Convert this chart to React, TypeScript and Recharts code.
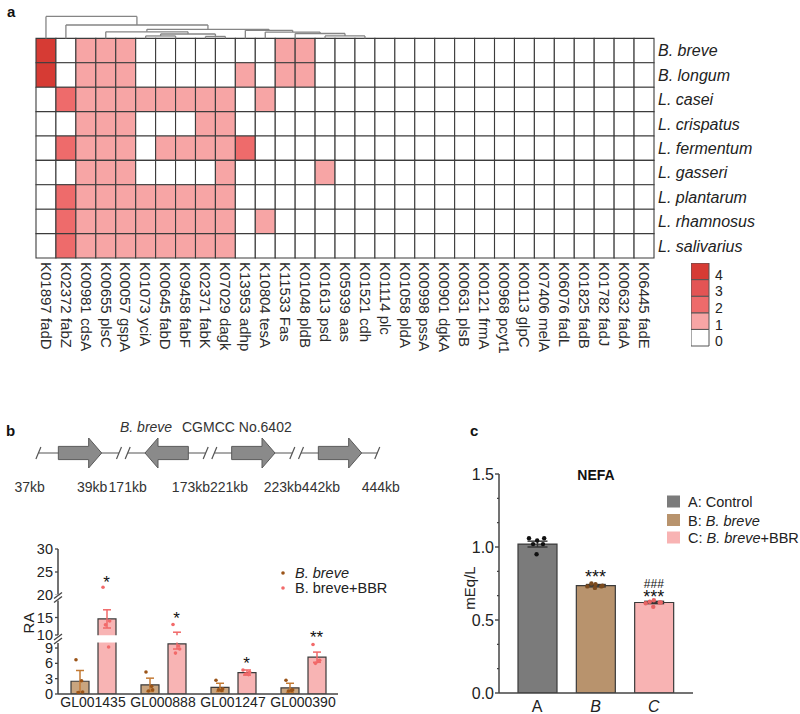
import React from 'react';
import {
  ComposedChart, Bar, Scatter, XAxis, YAxis, ReferenceArea, ReferenceLine, ReferenceDot, ErrorBar, Cell,
} from 'recharts';

const FONT = "'Liberation Sans', Arial, Helvetica, sans-serif";
const INK = '#222';

/* ---------------- Panel a : heatmap ---------------- */
const heatGenes = [
  'K01897 fadD', 'K02372 fabZ', 'K00981 cdsA', 'K00655 plsC', 'K00057 gspA', 'K01073 yciA',
  'K00645 fabD', 'K09458 fabF', 'K02371 fabK', 'K07029 dagk', 'K13953 adhp', 'K10804 tesA',
  'K11533 Fas', 'K01048 pldB', 'K01613 psd', 'K05939 aas', 'K01521 cdh', 'K01114 plc',
  'K01058 pldA', 'K00998 pssA', 'K00901 dgkA', 'K00631 plsB', 'K00121 frmA', 'K00968 pcyt1',
  'K00113 glpC', 'K07406 melA', 'K06076 fadL', 'K01825 fadB', 'K01782 fadJ', 'K00632 fadA', 'K06445 fadE',
];
const heatSpecies = [
  'B. breve', 'B. longum', 'L. casei', 'L. crispatus', 'L. fermentum',
  'L. gasseri', 'L. plantarum', 'L. rhamnosus', 'L. salivarius',
];
const rowBreve      = [4,0,1,1,1,0,0,0,0,0,0,0,1,1,0,0,0,0,0,0,0,0,0,0,0,0,0,0,0,0,0];
const rowLongum     = [4,0,1,1,1,0,0,0,0,0,1,0,1,1,0,0,0,0,0,0,0,0,0,0,0,0,0,0,0,0,0];
const rowCasei      = [0,2,1,1,1,1,1,1,1,1,0,1,0,0,0,0,0,0,0,0,0,0,0,0,0,0,0,0,0,0,0];
const rowCrispatus  = [0,0,1,1,1,0,0,0,1,1,0,0,0,0,0,0,0,0,0,0,0,0,0,0,0,0,0,0,0,0,0];
const rowFermentum  = [0,2,1,1,1,0,1,1,1,1,2,0,0,0,0,0,0,0,0,0,0,0,0,0,0,0,0,0,0,0,0];
const rowGasseri    = [0,0,1,1,1,0,0,0,0,1,0,0,0,0,1,0,0,0,0,0,0,0,0,0,0,0,0,0,0,0,0];
const rowPlantarum  = [0,2,1,1,1,1,1,1,1,1,0,0,0,0,0,0,0,0,0,0,0,0,0,0,0,0,0,0,0,0,0];
const rowRhamnosus  = [0,2,1,1,1,1,1,1,1,1,0,1,0,0,0,0,0,0,0,0,0,0,0,0,0,0,0,0,0,0,0];
const rowSalivarius = [0,2,1,1,1,1,1,1,1,1,0,0,0,0,0,0,0,0,0,0,0,0,0,0,0,0,0,0,0,0,0];
const heatRows = [rowBreve, rowLongum, rowCasei, rowCrispatus, rowFermentum, rowGasseri, rowPlantarum, rowRhamnosus, rowSalivarius];
const heatLevels = [0, 1, 2, 3, 4];
const heatColors = ['#ffffff', '#f7a5a5', '#ee6b6b', '#e35454', '#d63b34'];

// dendrogram merges: left/right child position (column units), merge height, child heights
const dendroLinks = [
  { l: 5.5, r: 7.0, h: 0.1, hl: 0, hr: 0 },
  { l: 8.5, r: 9.5, h: 0.08, hl: 0, hr: 0 },
  { l: 6.25, r: 9.0, h: 0.18, hl: 0.1, hr: 0.08 },
  { l: 3.5, r: 7.625, h: 0.27, hl: 0, hr: 0.18 },
  { l: 14.5, r: 16.5, h: 0.1, hl: 0, hr: 0 },
  { l: 13.0, r: 15.5, h: 0.2, hl: 0, hr: 0.1 },
  { l: 11.5, r: 14.25, h: 0.26, hl: 0, hr: 0.2 },
  { l: 10.5, r: 12.875, h: 0.33, hl: 0, hr: 0.26 },
  { l: 5.5625, r: 11.6875, h: 0.37, hl: 0.27, hr: 0.33 },
  { l: 1.5, r: 8.625, h: 0.55, hl: 0, hr: 0.37 },
  { l: 0.5, r: 5.0625, h: 0.9, hl: 0, hr: 0.55 },
];

/* ---------------- Panel b : gene map ---------------- */
const geneSlot = [0, 1, 2, 3];
const geneDir = [1, -1, 1, 1];
const geneKbLabels = ['37kb', '39kb', '171kb', '173kb', '221kb', '223kb', '442kb', '444kb'];
const geneKbAt = [-0.58, 0.14, 0.55, 1.28, 1.72, 2.34, 2.78, 3.47];

/* ---------------- Panel b : RA bars ---------------- */
const raGenes = ['GL001435', 'GL000888', 'GL001247', 'GL000390'];
const breveMean = [2.5, 1.8, 1.3, 1.2];
const breveSem = [2.1, 1.3, 0.8, 0.9];
const bbrMean = [14.6, 9.8, 4.2, 7.2];
const bbrSem = [2.6, 1.0, 0.5, 1.0];
const brevePts = [[6.7, 0.4, 0.3, 2.6], [4.3, 0.8, 0.6, 1.5], [2.7, 1.0, 0.8, 0.7], [2.7, 0.8, 0.6, 0.7]];
const bbrPts = [[21.7, 14.0, 12.9, 9.2], [13.0, 8.8, 8.0, 9.4], [4.7, 4.3, 3.9, 3.8], [9.7, 6.6, 6.0, 6.5]];
const raStarY = [23.7, 15.9, 6.7, 10.3];
const raStarText = ['*', '*', '*', '**'];
const raTickVals = [[0, 3, 6, 9], [10, 15], [20, 25, 30]];
// broken axis: value range of each piece, its start on the drawn scale and its stretch
const raPieces = [
  { lo: 0, hi: 10, d0: 0, k: 5.11 },
  { lo: 10, hi: 20, d0: 59, k: 3.5 },
  { lo: 20, hi: 30, d0: 99, k: 4.6 },
];
const ptJitter = [-0.05, 0.045, -0.015, 0.03];

/* ---------------- Panel c : NEFA ---------------- */
const nefaGroups = ['A', 'B', 'C'];
const nefaMean = [1.02, 0.735, 0.62];
const nefaSem = [0.02, 0.008, 0.008];
const nefaPts = [
  [1.06, 1.06, 1.045, 1.02, 1.02, 0.95],
  [0.73, 0.735, 0.745, 0.75, 0.73, 0.72],
  [0.615, 0.62, 0.635, 0.625, 0.62, 0.59],
];
const nefaJitter = [-0.14, 0.12, 0.0, -0.07, 0.1, -0.01];
const nefaStarGroup = [1, 2, 2];
const nefaStarY = [0.822, 0.762, 0.683];
const nefaStarText = ['***', '###', '***'];
const nefaTicks = [0, 1 / 6, 1 / 3, 0.5, 2 / 3, 5 / 6, 1, 7 / 6, 4 / 3, 1.5];
const nefaFill = ['#7b7b7b', '#b8936d', '#f8b3b3'];
const nefaDot = ['#111111', '#7a4a1e', '#e86464'];

/* ================= helpers ================= */
function pieceOf(v: number) {
  return v >= 20 ? 2 : v >= 10 ? 1 : 0;
}
function toD(v: number, piece?: number) {
  const p = raPieces[piece === undefined ? pieceOf(v) : piece];
  return p.d0 + (v - p.lo) * p.k;
}
const raTicks = raTickVals.flatMap((arr, pi) => arr.map((t) => ({ d: toD(t, pi), label: String(t) })));

const GeneTick = (props: any) => {
  const { x, y, payload } = props;
  const i = Math.floor(payload.value);
  return (
    <text transform={`translate(${x},${y}) rotate(90)`} dy="0.35em" textAnchor="start" fontSize={15} fill="#2a2a2a" fontFamily={FONT}>
      {heatGenes[i]}
    </text>
  );
};
const SpeciesTick = (props: any) => {
  const { x, y, payload } = props;
  const i = Math.floor(payload.value);
  return (
    <text x={x} y={y} dy="0.36em" textAnchor="start" fontSize={16} fontStyle="italic" fill={INK} fontFamily={FONT}>
      {heatSpecies[i]}
    </text>
  );
};
const LevelTick = (props: any) => {
  const { x, y, payload } = props;
  return (
    <text x={x} y={y} dy="0.6em" textAnchor="start" fontSize={14} fill={INK} fontFamily={FONT}>
      {String(Math.floor(payload.value))}
    </text>
  );
};

function Heatmap() {
  const cells = heatRows.flatMap((row, r) => row.map((v, c) => ({ x: c + 0.5, y: r + 0.5, r, c, v })));
  const lines: any[] = [];
  dendroLinks.forEach((k, i) => {
    const st = { stroke: '#858585', strokeWidth: 1.3, ifOverflow: 'visible' as const };
    lines.push(<ReferenceLine key={`h${i}`} segment={[{ x: k.l, y: -k.h }, { x: k.r, y: -k.h }]} {...st} />);
    lines.push(<ReferenceLine key={`l${i}`} segment={[{ x: k.l, y: -k.h }, { x: k.l, y: -k.hl }]} {...st} />);
    lines.push(<ReferenceLine key={`r${i}`} segment={[{ x: k.r, y: -k.h }, { x: k.r, y: -k.hr }]} {...st} />);
  });
  return (
    <ComposedChart width={800} height={420} margin={{ top: 14, right: 0, bottom: 0, left: 36 }} data={cells}>
      <XAxis type="number" dataKey="x" domain={[0, heatGenes.length]} allowDataOverflow
        ticks={heatGenes.map((_, i) => i + 0.5)} interval={0} tick={<GeneTick />}
        axisLine={false} tickLine={false} tickSize={0} tickMargin={4} height={162} />
      <YAxis type="number" dataKey="y" orientation="right" reversed domain={[-1, heatSpecies.length]} allowDataOverflow
        ticks={heatSpecies.map((_, i) => i + 0.5)} interval={0} tick={<SpeciesTick />}
        axisLine={false} tickLine={false} tickSize={0} tickMargin={4} width={146} />
      <Scatter data={cells} dataKey="y" isAnimationActive={false} shape={() => <g />} />
      {cells.map((cell) => (
        <ReferenceArea key={`c${cell.r}-${cell.c}`} x1={cell.c} x2={cell.c + 1} y1={cell.r} y2={cell.r + 1}
          fill={heatColors[cell.v]} fillOpacity={1} stroke="#3c3c3c" strokeWidth={1.1} ifOverflow="visible" />
      ))}
      {lines}
    </ComposedChart>
  );
}

function HeatLegend() {
  const pts = heatLevels.map((l) => ({ x: 0.5, y: l + 0.5 }));
  return (
    <ComposedChart width={60} height={97} margin={{ top: 0, right: 0, bottom: 14, left: 0 }} data={pts}>
      <XAxis type="number" dataKey="x" domain={[0, 1]} allowDataOverflow hide />
      <YAxis type="number" orientation="right" domain={[0, heatLevels.length]} allowDataOverflow
        ticks={heatLevels.map((l) => l + 0.5)} interval={0} tick={<LevelTick />}
        axisLine={false} tickLine={false} tickSize={0} tickMargin={6} width={42} />
      <Scatter data={pts} dataKey="y" isAnimationActive={false} shape={() => <g />} />
      {heatLevels.map((l) => (
        <ReferenceArea key={l} x1={0} x2={1} y1={l} y2={l + 1} fill={heatColors[l]} fillOpacity={1}
          stroke="#555" strokeWidth={1} ifOverflow="visible" />
      ))}
    </ComposedChart>
  );
}

function arrowShape(dir: number) {
  return (p: any) => {
    const { x, y, width: w, height: h } = p;
    const cy = y + h / 2;
    const bh = h * 0.22;
    const hl = w * 0.3;
    const pts = dir > 0
      ? [[x, cy - bh], [x + w - hl, cy - bh], [x + w - hl, y], [x + w, cy], [x + w - hl, y + h], [x + w - hl, cy + bh], [x, cy + bh]]
      : [[x + w, cy - bh], [x + hl, cy - bh], [x + hl, y], [x, cy], [x + hl, y + h], [x + hl, cy + bh], [x + w, cy + bh]];
    return <polygon points={pts.map((q) => q.join(',')).join(' ')} fill="#8a8a8a" stroke="#5a5a5a" strokeWidth={1} />;
  };
}
const slashShape = (p: any) => (
  <line x1={p.cx - 2.5} y1={p.cy + 6} x2={p.cx + 2.5} y2={p.cy - 6} stroke="#555" strokeWidth={1.2} />
);

function GeneMap() {
  const pts = geneSlot.map((s) => ({ x: s, y: 0 }));
  const last = geneSlot.length - 1;
  const segs = geneSlot.map((s, i) => ({
    a: i === 0 ? s - 0.48 : s - 0.45,
    b: i === last ? s + 0.43 : s + 0.45,
  }));
  return (
    <ComposedChart width={400} height={70} margin={{ top: 8, right: 8, bottom: 0, left: 28 }} data={pts}>
      <XAxis type="number" dataKey="x" domain={[-0.6, 3.6]} allowDataOverflow ticks={geneKbAt} interval={0}
        tickFormatter={(v: number) => geneKbLabels[geneKbAt.indexOf(v)]}
        tick={{ fontSize: 14, fill: '#333', fontFamily: FONT }}
        axisLine={false} tickLine={false} tickSize={0} tickMargin={14} height={32} />
      <YAxis type="number" domain={[-1, 1]} allowDataOverflow hide />
      <Scatter data={pts} dataKey="y" isAnimationActive={false} shape={() => <g />} />
      {segs.map((sg, i) => (
        <ReferenceLine key={`s${i}`} segment={[{ x: sg.a, y: 0 }, { x: sg.b, y: 0 }]} stroke="#555" strokeWidth={1.2} ifOverflow="visible" />
      ))}
      {segs.flatMap((sg, i) => [
        <ReferenceDot key={`da${i}`} x={sg.a} y={0} r={3} shape={slashShape} ifOverflow="visible" zIndex={650} />,
        <ReferenceDot key={`db${i}`} x={sg.b} y={0} r={3} shape={slashShape} ifOverflow="visible" zIndex={650} />,
      ])}
      {geneSlot.map((s, i) => (
        <ReferenceArea key={`g${i}`} x1={s - 0.25} x2={s + 0.25} y1={-1} y2={1} shape={arrowShape(geneDir[i])}
          ifOverflow="visible" zIndex={450} />
      ))}
    </ComposedChart>
  );
}

const breakShape = (p: any) => (
  <g>
    <rect x={p.cx - 5} y={p.cy - 3} width={10} height={6} fill="#fff" />
    <line x1={p.cx - 4} y1={p.cy + 1} x2={p.cx + 4} y2={p.cy - 5} stroke="#444" strokeWidth={1.3} />
    <line x1={p.cx - 4} y1={p.cy + 5} x2={p.cx + 4} y2={p.cy - 1} stroke="#444" strokeWidth={1.3} />
  </g>
);
const dotShape = (r: number) => (p: any) => <circle cx={p.cx} cy={p.cy} r={r} fill={p.fill} />;
const starShape = (fs: number) => (p: any) => {
  const t = p.payload.t as string;
  const off = t.startsWith('#') ? 0.36 : 0.56;
  return (
    <text x={p.cx} y={p.cy + off * fs} textAnchor="middle" fontSize={t.startsWith('#') ? 12 : fs} fill="#111" fontFamily={FONT}>
      {t}
    </text>
  );
};

function RaChart() {
  const data = raGenes.map((g, i) => ({ name: g, breve: breveMean[i], bbr: bbrMean[i], breveSem: breveSem[i], bbrSem: bbrSem[i] }));
  const brevePtsData = brevePts.flatMap((arr, i) => arr.map((v, j) => ({ x: i - 0.193 + ptJitter[j], y: toD(v) })));
  const bbrPtsData = bbrPts.flatMap((arr, i) => arr.map((v, j) => ({ x: i + 0.193 + ptJitter[j], y: toD(v) })));
  const stars = raStarY.map((v, i) => ({ x: i + 0.193, y: toD(v), t: raStarText[i] }));
  const err = (m: string, s: string) => (e: any) => [
    toD(e[m]) - toD(Math.max(0, e[m] - e[s])),
    toD(e[m] + e[s]) - toD(e[m]),
  ];
  const top = raPieces[raPieces.length - 1];
  const dMax = top.d0 + (top.hi - top.lo) * top.k;
  return (
    <ComposedChart width={400} height={184} margin={{ top: 19, right: 62, bottom: 0, left: 0 }} data={data} barGap={9}>
      <XAxis dataKey="name" interval={0} axisLine={{ stroke: '#444', strokeWidth: 1.5 }} tickLine={false} tickSize={0} tickMargin={3}
        height={20} tick={{ fontSize: 14, fill: INK, fontFamily: FONT }} />
      <XAxis xAxisId="n" type="number" dataKey="x" domain={[-0.5, 3.5]} allowDataOverflow hide />
      <YAxis type="number" domain={[0, dMax]} allowDataOverflow ticks={raTicks.map((t) => t.d)} interval={0}
        tickFormatter={(d: number) => (raTicks.find((t) => Math.abs(t.d - d) < 1e-6) || { label: '' }).label}
        axisLine={false} tickLine={{ stroke: '#444', strokeWidth: 1.3 }} tickSize={3} tickMargin={2} width={58}
        tick={{ fontSize: 14.5, fill: INK, fontFamily: FONT }} />
      <Bar dataKey={(e: any) => toD(e.breve)} barSize={18} fill="#c9a57f" stroke="#3a3a3a" strokeWidth={1.2} isAnimationActive={false}>
        <ErrorBar dataKey={err('breve', 'breveSem')} width={4} stroke="#c37a34" strokeWidth={1.5} direction="y" />
      </Bar>
      <Bar dataKey={(e: any) => toD(e.bbr)} barSize={18} fill="#f8b4b4" stroke="#3a3a3a" strokeWidth={1.2} isAnimationActive={false}>
        <ErrorBar dataKey={err('bbr', 'bbrSem')} width={4} stroke="#f06868" strokeWidth={1.5} direction="y" />
      </Bar>
      <Scatter xAxisId="n" data={brevePtsData} dataKey="y" fill="#9a5418" shape={dotShape(1.8)} isAnimationActive={false} />
      <Scatter xAxisId="n" data={bbrPtsData} dataKey="y" fill="#f26a6a" shape={dotShape(1.8)} isAnimationActive={false} />
      {raPieces.slice(0, -1).map((p, i) => {
        const nxt = raPieces[i + 1];
        const y1 = p.d0 + (p.hi - p.lo) * p.k;
        return <ReferenceArea key={`gap${i}`} y1={y1 + 0.3} y2={nxt.d0 - 0.3} fill="#fff" fillOpacity={1} stroke="none" ifOverflow="visible" zIndex={550} />;
      })}
      {raPieces.map((p, i) => (
        <ReferenceLine key={`ax${i}`} xAxisId="n" segment={[{ x: -0.5, y: p.d0 }, { x: -0.5, y: p.d0 + (p.hi - p.lo) * p.k }]}
          stroke="#444" strokeWidth={1.5} ifOverflow="visible" zIndex={560} />
      ))}
      {raPieces.slice(0, -1).map((p, i) => {
        const nxt = raPieces[i + 1];
        const y1 = p.d0 + (p.hi - p.lo) * p.k;
        return <ReferenceDot key={`br${i}`} xAxisId="n" x={-0.5} y={(y1 + nxt.d0) / 2} r={3} shape={breakShape} ifOverflow="visible" zIndex={700} />;
      })}
      <Scatter xAxisId="n" data={stars} dataKey="y" shape={starShape(17)} isAnimationActive={false} zIndex={900} />
    </ComposedChart>
  );
}

const NefaYTick = (props: any) => {
  const { x, y, payload } = props;
  const v = payload.value as number;
  const major = Math.abs(v * 2 - Math.round(v * 2)) < 1e-6;
  return (
    <g>
      <line x1={x - (major ? 4 : 2)} y1={y} x2={x} y2={y} stroke="#444" strokeWidth={1.4} />
      {major && (
        <text x={x - 5} y={y} dy="0.36em" textAnchor="end" fontSize={16} fill={INK} fontFamily={FONT}>{v.toFixed(1)}</text>
      )}
    </g>
  );
};
const NefaXTick = (props: any) => {
  const { x, y, payload, index } = props;
  return (
    <text x={x} y={y} dy="0.71em" textAnchor="middle" fontSize={16} fontStyle={index > 0 ? 'italic' : 'normal'} fill={INK} fontFamily={FONT}>
      {payload.value}
    </text>
  );
};

function NefaChart() {
  const data = nefaGroups.map((g, i) => ({ name: g, v: nefaMean[i], sem: nefaSem[i] }));
  const stars = nefaStarY.map((v, i) => ({ x: nefaStarGroup[i], y: v, t: nefaStarText[i] }));
  return (
    <ComposedChart width={400} height={254} margin={{ top: 14, right: 107, bottom: 0, left: 0 }} data={data}>
      <XAxis dataKey="name" padding={{ left: 9, right: 10 }} interval={0} axisLine={{ stroke: '#444', strokeWidth: 1.5 }}
        tickLine={false} tickSize={0} tickMargin={8} height={21} tick={<NefaXTick />} />
      <XAxis xAxisId="n" type="number" dataKey="x" domain={[-0.5, 2.5]} allowDataOverflow padding={{ left: 9, right: 10 }} hide />
      <YAxis type="number" domain={[0, 1.5]} allowDataOverflow ticks={nefaTicks} interval={0} tick={<NefaYTick />}
        tickLine={false} tickSize={0} tickMargin={0} width={99} axisLine={{ stroke: '#444', strokeWidth: 1.5 }} />
      <Bar dataKey="v" barSize={39} stroke="#3a3a3a" strokeWidth={1.2} isAnimationActive={false}>
        {data.map((_, i) => <Cell key={i} fill={nefaFill[i]} />)}
        <ErrorBar dataKey="sem" width={10} stroke="#333" strokeWidth={1.4} direction="y" />
      </Bar>
      {nefaPts.map((arr, g) => (
        <Scatter key={g} xAxisId="n" data={arr.map((v, j) => ({ x: g + nefaJitter[j], y: v }))} dataKey="y"
          fill={nefaDot[g]} shape={dotShape(2.2)} isAnimationActive={false} />
      ))}
      <Scatter xAxisId="n" data={stars} dataKey="y" shape={starShape(18)} isAnimationActive={false} zIndex={900} />
    </ComposedChart>
  );
}

export default function App() {
  return (
    <div style={{ position: 'absolute', left: 0, top: 0, width: 800, height: 714, background: '#fff', fontFamily: FONT, color: INK, overflow: 'hidden' }}>
      <div style={{ position: 'absolute', left: 0, top: 0 }}><Heatmap /></div>
      <div style={{ position: 'absolute', left: 691, top: 263 }}><HeatLegend /></div>
      <div style={{ position: 'absolute', left: 0, top: 430 }}><GeneMap /></div>
      <div style={{ position: 'absolute', left: 0, top: 530 }}><RaChart /></div>
      <div style={{ position: 'absolute', left: 400, top: 460 }}><NefaChart /></div>
      <svg width={800} height={714} style={{ position: 'absolute', left: 0, top: 0, pointerEvents: 'none' }} fontFamily={FONT}>
        <text x={7} y={17} fontSize={15} fontWeight="bold" fill="#111">a</text>
        <text x={6} y={436} fontSize={15} fontWeight="bold" fill="#111">b</text>
        <text x={470} y={436} fontSize={15} fontWeight="bold" fill="#111">c</text>
        <text x={120} y={432} fontSize={14} fill="#333">
          <tspan fontStyle="italic">B. breve</tspan>
          <tspan x={182}>CGMCC No.6402</tspan>
        </text>
        <text transform="translate(34,623) rotate(-90)" textAnchor="middle" fontSize={15} fill={INK}>RA</text>
        <circle cx={283} cy={573} r={1.8} fill="#9a5418" />
        <text x={295} y={578} fontSize={14.5} fontStyle="italic" fill={INK}>B. breve</text>
        <circle cx={283} cy={588} r={1.8} fill="#f26a6a" />
        <text x={295} y={593} fontSize={14.5} fill={INK}>B. breve+BBR</text>
        <text x={596} y={480} textAnchor="middle" fontSize={14} fontWeight="bold" fill="#111">NEFA</text>
        <text transform="translate(475,588) rotate(-90)" textAnchor="middle" fontSize={15} fill={INK}>mEq/L</text>
        <rect x={667} y={495.5} width={13} height={12} fill={nefaFill[0]} />
        <text x={688} y={507} fontSize={14.5} fill={INK}>A: Control</text>
        <rect x={667} y={514} width={13} height={12} fill={nefaFill[1]} />
        <text x={688} y={525.5} fontSize={14.5} fill={INK}>B: <tspan fontStyle="italic">B. breve</tspan></text>
        <rect x={667} y={531.5} width={13} height={12} fill={nefaFill[2]} />
        <text x={688} y={543} fontSize={14.5} fill={INK}>C: <tspan fontStyle="italic">B. breve</tspan>+BBR</text>
      </svg>
    </div>
  );
}
